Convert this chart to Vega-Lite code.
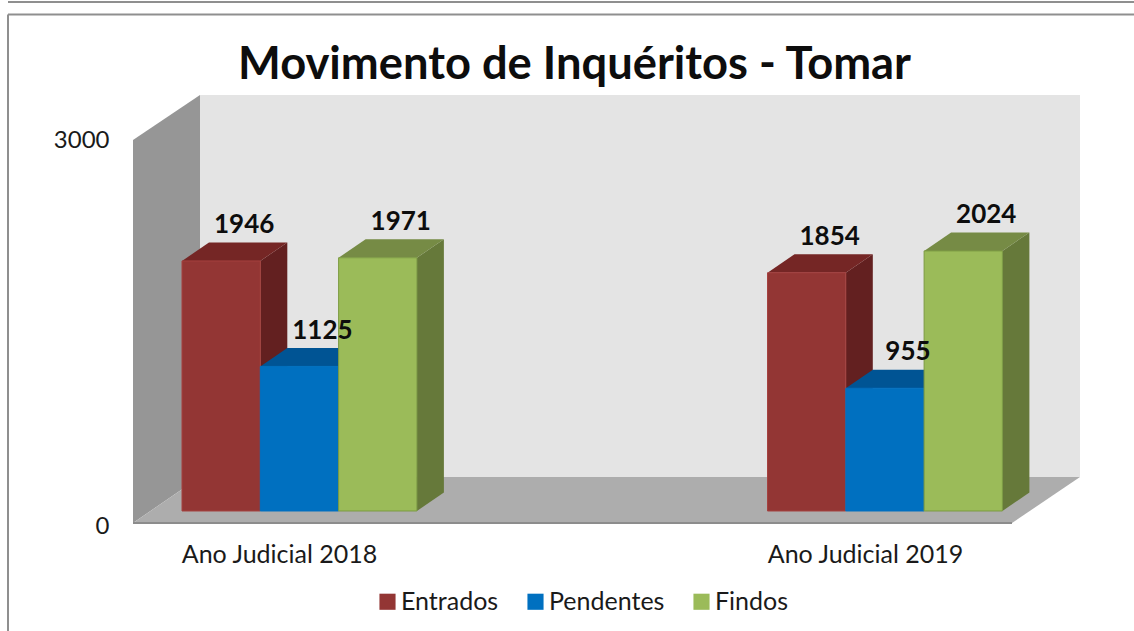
{
"$schema":"https://vega.github.io/schema/vega-lite/v6.json",
"autosize":"none","width":947,"height":428,
"padding":{"left":133,"top":95,"right":54,"bottom":108},
"background":"white",
"title":{"text":"Movimento de Inquéritos - Tomar","font":"Lato","fontWeight":"bold","fontSize":45.3,"color":"#0d0d0d","anchor":"middle","dx":-32,"offset":-87},
"datasets":{
"dados":[
{"ano":"Ano Judicial 2018","serie":"Entrados","valor":1946},
{"ano":"Ano Judicial 2018","serie":"Pendentes","valor":1125},
{"ano":"Ano Judicial 2018","serie":"Findos","valor":1971},
{"ano":"Ano Judicial 2019","serie":"Entrados","valor":1854},
{"ano":"Ano Judicial 2019","serie":"Pendentes","valor":955},
{"ano":"Ano Judicial 2019","serie":"Findos","valor":2024}],
"vertices":[{"v":0},{"v":1},{"v":2},{"v":3}]
},
"encoding":{
"x":{"field":"px","type":"quantitative","scale":{"domain":[0,947],"nice":false,"zero":false},"title":null,
"axis":{"values":[146,732],"labelExpr":"datum.value<400?'Ano Judicial 2018':'Ano Judicial 2019'","domain":false,"ticks":false,"grid":false,"labelFont":"Lato","labelFontSize":25,"labelLimit":400,"labelColor":"#1a1a1a","labelPadding":19,"labelFlush":false,"labelOverlap":false}},
"y":{"field":"py","type":"quantitative","stack":null,"scale":{"domain":[0,3331],"nice":false,"zero":false},"title":null,
"axis":{"values":[0,3000],"domain":false,"ticks":false,"grid":false,"format":"d","labelFont":"Lato","labelFontSize":24,"labelColor":"#1a1a1a","labelPadding":24,"labelOffset":3,"labelFlush":false,"labelOverlap":false}}
},
"layer":[
{"data":{"name":"vertices"},
 "transform":[{"filter":"datum.v==0"},{"calculate":"67","as":"px"},{"calculate":"947","as":"px2"},{"calculate":"358","as":"py"},{"calculate":"3331","as":"py2"}],
 "mark":{"type":"rect","fill":"#e4e4e4"},
 "encoding":{"x2":{"field":"px2"},"y2":{"field":"py2"}}},
{"data":{"name":"vertices"},
 "transform":[{"filter":"datum.v<2"},{"calculate":"67*datum.v","as":"px"},{"calculate":"358*datum.v","as":"py"},{"calculate":"2980+351*datum.v","as":"py2"}],
 "mark":{"type":"area","orient":"vertical","fill":"#969696","clip":false},
 "encoding":{"y2":{"field":"py2"}}},
{"data":{"name":"vertices"},
 "transform":[{"calculate":"[0,67,879,947][datum.v]","as":"px"},{"calculate":"[0,0,0,358][datum.v]","as":"py"},{"calculate":"[0,358,358,358][datum.v]","as":"py2"}],
 "mark":{"type":"area","orient":"vertical","fill":"#adadad","clip":false},
 "encoding":{"y2":{"field":"py2"}}},
{"data":{"name":"vertices"},
 "transform":[{"filter":"datum.v==0"},{"calculate":"0","as":"px"},{"calculate":"879","as":"px2"},{"calculate":"0","as":"py"},{"calculate":"0","as":"py2"}],
 "mark":{"type":"rule","stroke":"#8c8c8c","strokeWidth":2},
 "encoding":{"x2":{"field":"px2"},"y2":{"field":"py2"}}},
{"data":{"name":"dados"},
 "transform":[
 {"calculate":"[0,1]","as":"v"},{"flatten":["v"]},
 {"calculate":"datum.ano+datum.serie","as":"chave"},
 {"calculate":"(datum.ano=='Ano Judicial 2018'?0:1)*585.5+indexof(['Entrados','Pendentes','Findos'],datum.serie)*78.3+49","as":"x0"},
 {"calculate":"datum.x0+78.3+27*datum.v","as":"px"},
 {"calculate":"93.4+144*datum.v","as":"py"},
 {"calculate":"datum.py+datum.valor","as":"py2"},
 {"calculate":"{'Entrados':'#632020','Pendentes':'#005494','Findos':'#66793a'}[datum.serie]","as":"cor"}],
 "mark":{"type":"area","orient":"vertical"},
 "encoding":{"detail":{"field":"chave"},"y2":{"field":"py2"},"fill":{"field":"cor","type":"nominal","scale":null}}},
{"data":{"name":"dados"},
 "transform":[
 {"calculate":"[0,1,2,3]","as":"v"},{"flatten":["v"]},
 {"calculate":"datum.ano+datum.serie","as":"chave"},
 {"calculate":"(datum.ano=='Ano Judicial 2018'?0:1)*585.5+indexof(['Entrados','Pendentes','Findos'],datum.serie)*78.3+49","as":"x0"},
 {"calculate":"datum.x0+[0,27,78.3,105.3][datum.v]","as":"px"},
 {"calculate":"93.4+datum.valor+[0,0,0,144][datum.v]","as":"py"},
 {"calculate":"93.4+datum.valor+[0,144,144,144][datum.v]","as":"py2"},
 {"calculate":"{'Entrados':'#752625','Pendentes':'#005494','Findos':'#768b45'}[datum.serie]","as":"cor"}],
 "mark":{"type":"area","orient":"vertical"},
 "encoding":{"detail":{"field":"chave"},"y2":{"field":"py2"},"fill":{"field":"cor","type":"nominal","scale":null}}},
{"data":{"name":"dados"},
 "transform":[
 {"calculate":"(datum.ano=='Ano Judicial 2018'?0:1)*585.5+indexof(['Entrados','Pendentes','Findos'],datum.serie)*78.3+49","as":"px"},
 {"calculate":"datum.px+78.3","as":"px2"},
 {"calculate":"93.4","as":"py"},
 {"calculate":"93.4+datum.valor","as":"py2"},
 {"calculate":"{'Entrados':'#a5413f','Pendentes':'#0070c0','Findos':'#7c9b42'}[datum.serie]","as":"contorno"}],
 "mark":{"type":"rect","strokeWidth":1},
 "encoding":{"x2":{"field":"px2"},"y2":{"field":"py2"},
  "stroke":{"field":"contorno","type":"nominal","scale":null},
  "color":{"field":"serie","type":"nominal","title":null,
   "scale":{"domain":["Entrados","Pendentes","Findos"],"range":["#933634","#0070c0","#9bbb59"]},
   "sort":["Entrados","Pendentes","Findos"],
   "legend":{"orient":"none","legendX":242,"legendY":494,"direction":"horizontal","columns":3,"symbolType":"square","symbolSize":260,"symbolStrokeWidth":0,"labelFont":"Lato","labelFontSize":25,"labelColor":"#1a1a1a","columnPadding":24,"labelOffset":1}}}},
{"data":{"name":"dados"},
 "transform":[
 {"calculate":"(datum.ano=='Ano Judicial 2018'?0:1)*585.5+indexof(['Entrados','Pendentes','Findos'],datum.serie)*78.3+49+39.15+23","as":"px"},
 {"calculate":"93.4+datum.valor+144+135","as":"py"}],
 "mark":{"type":"text","font":"Lato","fontWeight":"bold","fontSize":26,"color":"#0d0d0d","baseline":"middle","align":"center"},
 "encoding":{"text":{"field":"valor","type":"quantitative","format":"d"}}},
{"data":{"name":"vertices"},
 "transform":[{"filter":"datum.v<3"},
 {"calculate":"[-125,-125,-125][datum.v]","as":"px"},
 {"calculate":"[1001,1001,-125][datum.v]","as":"px2"},
 {"calculate":"[4054,3957,3957][datum.v]","as":"py"},
 {"calculate":"[4054,3957,-840][datum.v]","as":"py2"}],
 "mark":{"type":"rule","stroke":"#8f8f8f","strokeWidth":2,"clip":false},
 "encoding":{"x2":{"field":"px2"},"y2":{"field":"py2"}}}
],
"config":{"view":{"stroke":null}}
}
